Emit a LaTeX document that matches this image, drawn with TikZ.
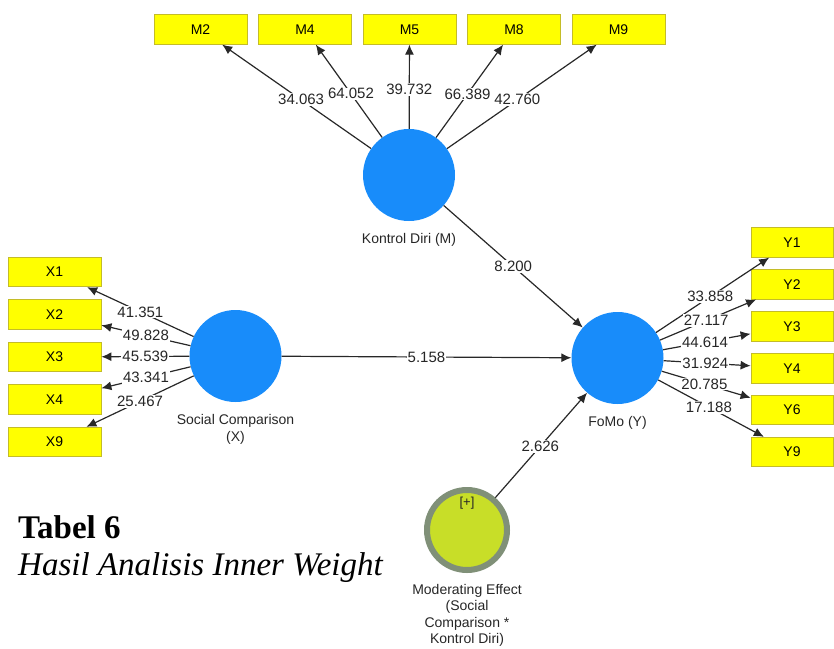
\documentclass[tikz,border=0pt]{standalone}
\usepackage{fontspec}
\setmainfont{Liberation Serif}
\setsansfont{Liberation Sans}
\usepackage{tikz}
\usetikzlibrary{arrows.meta,positioning}

\definecolor{lvblue}{RGB}{24,140,250}
\definecolor{indyellow}{RGB}{255,255,0}
\definecolor{indedge}{RGB}{196,188,40}
\definecolor{modfill}{RGB}{200,222,40}
\definecolor{modring}{RGB}{128,144,120}
\definecolor{pathgray}{RGB}{40,40,40}

\begin{document}
\begin{tikzpicture}[x=1pt,y=-1pt,->,>={Latex[length=10pt,width=9pt]},
  every edge/.append style={draw=pathgray,line width=1.2pt},
  ind/.style={rectangle,fill=indyellow,draw=indedge,line width=.8pt,
    minimum width=93pt,minimum height=29.5pt,inner sep=0pt,
    font=\sffamily\fontsize{14}{16}\selectfont},
  lv/.style={circle,fill=lvblue,minimum size=92pt,inner sep=0pt},
  wt/.style={fill=white,inner sep=1pt,text=black!85,
    font=\sffamily\fontsize{15}{17}\selectfont},
  lvname/.style={inner sep=0pt,align=center,text=black!85,
    font=\sffamily\fontsize{14}{16.5}\selectfont}]

\useasboundingbox (0,0) rectangle (834,648);

% latent variables
\node[lv] (km) at (409,175) {};
\node[lv] (sc) at (235.5,356) {};
\node[lv] (fomo) at (617.5,358) {};
\node[circle,fill=modfill,draw=modring,line width=6pt,minimum size=80pt,
  inner sep=0pt] (mod) at (467,530) {};

\node[lvname] (km-t) [below=12pt of km] {Kontrol Diri (M)};
\node[lvname] (sc-t) [below=12pt of sc] {Social Comparison\\(X)};
\node[lvname] (fomo-t) [below=12pt of fomo] {FoMo (Y)};
\node[lvname] (mod-t) [below=11pt of mod] {Moderating Effect\\(Social\\Comparison *\\Kontrol Diri)};
\node[lvname,font=\sffamily\fontsize{13}{15}\selectfont] (mod-p) at (467,503) {[+]};

% indicators
\begin{scope}[node distance=104.5pt]
\node[ind] (m2) at (200.5,29.5) {M2};
\node[ind] (m4) [right of=m2] {M4};
\node[ind] (m5) [right of=m4] {M5};
\node[ind] (m8) [right of=m5] {M8};
\node[ind] (m9) [right of=m8] {M9};
\end{scope}

\begin{scope}[node distance=42.5pt]
\node[ind] (x1) at (54.5,272) {X1};
\node[ind] (x2) [below of=x1] {X2};
\node[ind] (x3) [below of=x2] {X3};
\node[ind] (x4) [below of=x3] {X4};
\node[ind] (x9) [below of=x4] {X9};
\end{scope}

\begin{scope}[node distance=41.9pt,ind/.append style={minimum width=82pt}]
\node[ind] (y1) at (792,242.5) {Y1};
\node[ind] (y2) [below of=y1] {Y2};
\node[ind] (y3) [below of=y2] {Y3};
\node[ind] (y4) [below of=y3] {Y4};
\node[ind] (y6) [below of=y4] {Y6};
\node[ind] (y9) [below of=y6] {Y9};
\end{scope}

% outer loadings
\path (km) edge node[wt,pos=.47] {34.063} (m2)
  (km) edge node[wt,pos=.47] {64.052} (m4)
  (km) edge node[wt,pos=.47] {39.732} (m5)
  (km) edge node[wt,pos=.47] {66.389} (m8)
  (km) edge node[wt,pos=.47] {42.760} (m9);

\path (sc) edge node[wt,pos=.5] {41.351} (x1)
  (sc) edge node[wt,pos=.5] {49.828} (x2)
  (sc) edge node[wt,pos=.5] {45.539} (x3)
  (sc) edge node[wt,pos=.5] {43.341} (x4)
  (sc) edge node[wt,pos=.5] {25.467} (x9);

\path (fomo) edge node[wt,pos=.48] {33.858} (y1)
  (fomo) edge node[wt,pos=.48] {27.117} (y2)
  (fomo) edge node[wt,pos=.48] {44.614} (y3)
  (fomo) edge node[wt,pos=.48] {31.924} (y4)
  (fomo) edge node[wt,pos=.48] {20.785} (y6)
  (fomo) edge node[wt,pos=.48] {17.188} (y9);

% inner model
\path (km) edge node[wt,pos=.5] {8.200} (fomo)
  (sc) edge node[wt,pos=.5] {5.158} (fomo)
  (mod) edge node[wt,pos=.49] {2.626} (fomo);

% caption
\node[anchor=base west,inner sep=0pt,font=\bfseries\fontsize{33}{38}\selectfont]
  (tab-no) at (18,538) {Tabel 6};
\node[anchor=base west,inner sep=0pt,font=\itshape\fontsize{33}{38}\selectfont]
  (tab-name) at (18,575) {Hasil Analisis Inner Weight};

\end{tikzpicture}
\end{document}
